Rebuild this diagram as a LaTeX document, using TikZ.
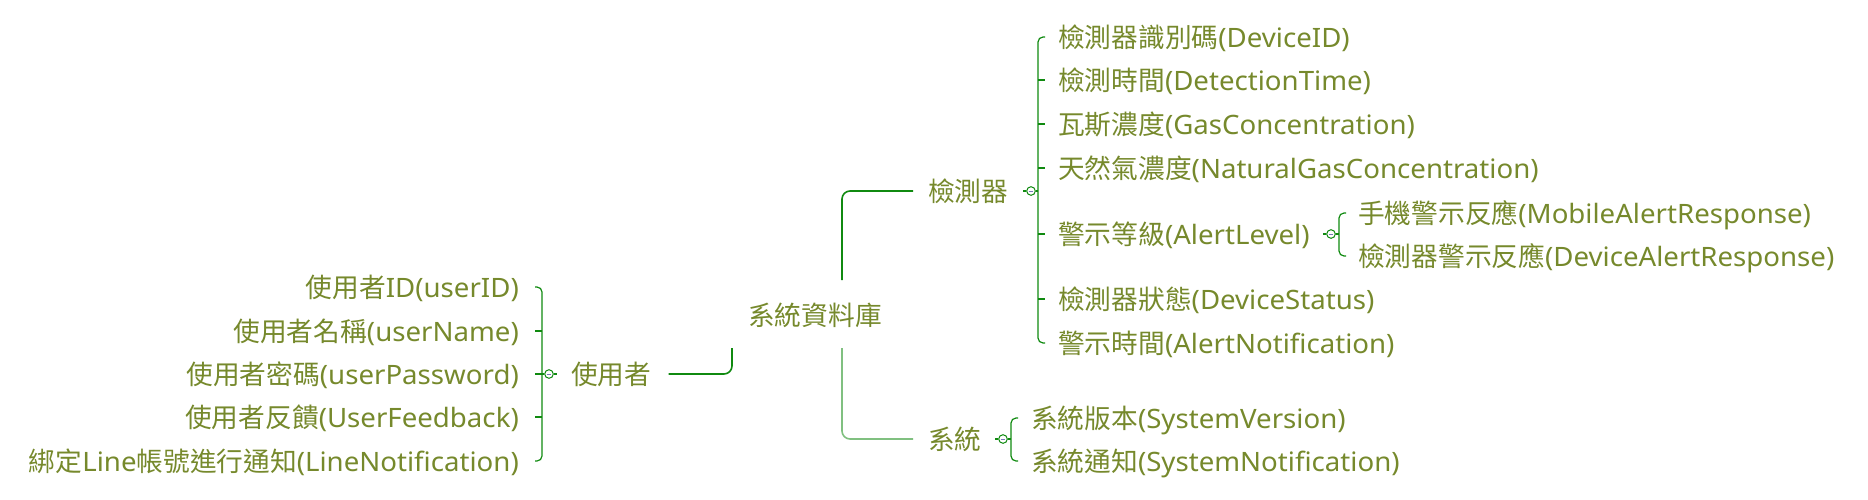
\documentclass[tikz,border=0pt]{standalone}
\usepackage{fontspec}
\setmainfont{Noto Sans}[FakeStretch=1.035]
\newfontfamily\cjk{Noto Sans CJK TC}
\newcommand\zh[1]{{\cjk #1}}
\definecolor{txtc}{HTML}{76892C}
\definecolor{linec}{HTML}{108A10}
\definecolor{lightc}{HTML}{80C080}
\definecolor{minusc}{HTML}{7878B8}
\begin{document}
\begin{tikzpicture}[x=1pt,y=-1pt,
  txt/.style={font=\fontsize{26.7}{32}\selectfont, text=txtc, inner sep=0pt,
    text height=23.5pt, text depth=3.2pt},
  conn/.style={draw=linec, line width=1.6pt, rounded corners=8pt},
  connl/.style={draw=lightc, line width=1.6pt, rounded corners=8pt},
  brk/.style={draw=linec, line width=1.2pt, rounded corners=5pt},
  tog/.style={circle, draw=linec, line width=1pt, minimum size=8.6pt, inner sep=0pt,
    path picture={\draw[minusc, line width=0.8pt]
      ([xshift=-2.4pt]path picture bounding box.center) --
      ([xshift=2.4pt]path picture bounding box.center);}}
]
\useasboundingbox (0,0) rectangle (1868,499);

% root
\node[txt, anchor=west] (root) at (748,315) {\zh{系統資料庫}};
\coordinate (rt) at (842,280);
\coordinate (rb) at (842,348);
\coordinate (ru) at (732,348);

% level 1
\node[txt, anchor=west] (det) at (928,191) {\zh{檢測器}};
\node[txt, anchor=west] (sys) at (928,439) {\zh{系統}};
\node[txt, anchor=west] (user) at (571,374) {\zh{使用者}};

\draw[conn] (rt) |- ([xshift=-15pt]det.west);
\draw[connl] (rb) |- ([xshift=-15pt]sys.west);
\draw[conn] ([xshift=17pt]user.east) -| (ru);

% detector children
\node[txt, anchor=west] (d1) at (1058,37)  {\zh{檢測器識別碼}(DeviceID)};
\node[txt, anchor=west] (d2) at (1058,80)  {\zh{檢測時間}(DetectionTime)};
\node[txt, anchor=west] (d3) at (1058,124) {\zh{瓦斯濃度}(GasConcentration)};
\node[txt, anchor=west] (d4) at (1058,168) {\zh{天然氣濃度}(NaturalGasConcentration)};
\node[txt, anchor=west] (d5) at (1058,234) {\zh{警示等級}(AlertLevel)};
\node[txt, anchor=west] (d6) at (1058,299) {\zh{檢測器狀態}(DeviceStatus)};
\node[txt, anchor=west] (d7) at (1058,343) {\zh{警示時間}(AlertNotification)};
\node[tog] (tdet) at (1031,191) {};
\draw[brk] ([xshift=-13pt]d1.west) -| ([xshift=-20pt]d7.west) -- ([xshift=-13pt]d7.west);
\foreach \n in {d2,d3,d4,d5,d6}
  \draw[brk] ([xshift=-20pt]\n.west) -- ([xshift=-13pt]\n.west);
\draw[brk] ([xshift=-3pt]tdet.west) -- (tdet.west);
\draw[brk] (tdet.east) -- ([xshift=-20pt]d1.west |- tdet.east);

% alert level children
\node[txt, anchor=west] (a1) at (1358,213) {\zh{手機警示反應}(MobileAlertResponse)};
\node[txt, anchor=west] (a2) at (1358,256) {\zh{檢測器警示反應}(DeviceAlertResponse)};
\node[tog] (tal) at (1331,234) {};
\draw[brk] ([xshift=-12pt]a1.west) -| ([xshift=-19pt]a2.west) -- ([xshift=-12pt]a2.west);
\draw[brk] ([xshift=-3pt]tal.west) -- (tal.west);
\draw[brk] (tal.east) -- ([xshift=-19pt]a1.west |- tal.east);

% system children
\node[txt, anchor=west] (s1) at (1031,418) {\zh{系統版本}(SystemVersion)};
\node[txt, anchor=west] (s2) at (1031,461) {\zh{系統通知}(SystemNotification)};
\node[tog] (tsys) at (1003,439) {};
\draw[brk] ([xshift=-13pt]s1.west) -| ([xshift=-20pt]s2.west) -- ([xshift=-13pt]s2.west);
\draw[brk] ([xshift=-3pt]tsys.west) -- (tsys.west);
\draw[brk] (tsys.east) -- ([xshift=-20pt]s1.west |- tsys.east);

% user children
\node[txt, anchor=east] (u1) at (519,287) {\zh{使用者}ID(userID)};
\node[txt, anchor=east] (u2) at (519,331) {\zh{使用者名稱}(userName)};
\node[txt, anchor=east] (u3) at (519,374) {\zh{使用者密碼}(userPassword)};
\node[txt, anchor=east] (u4) at (519,417) {\zh{使用者反饋}(UserFeedback)};
\node[txt, anchor=east] (u5) at (519,461) {\zh{綁定}Line\zh{帳號進行通知}(LineNotification)};
\node[tog] (tusr) at (549,374) {};
\draw[brk] ([xshift=16pt]u1.east) -| ([xshift=23pt]u5.east) -- ([xshift=16pt]u5.east);
\foreach \n in {u2,u3,u4}
  \draw[brk] ([xshift=23pt]\n.east) -- ([xshift=16pt]\n.east);
\draw[brk] (tusr.east) -- ([xshift=3pt]tusr.east);
\draw[brk] (tusr.west) -- ([xshift=23pt]u3.east);
\end{tikzpicture}
\end{document}
